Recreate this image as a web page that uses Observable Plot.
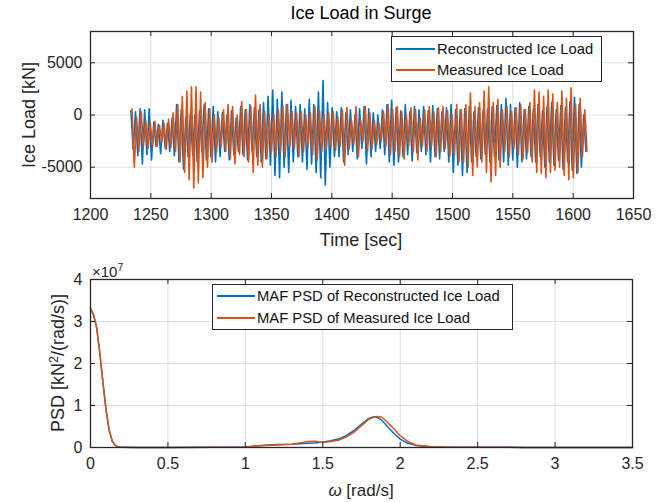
<!DOCTYPE html>
<html><head><meta charset="utf-8">
<script src="https://cdn.jsdelivr.net/npm/d3@7"></script>
<script src="https://cdn.jsdelivr.net/npm/@observablehq/plot@0.6"></script>
<style>
body{margin:0;background:#fff;}
#wrap{position:relative;width:665px;height:502px;font-family:"Liberation Sans",Arial,sans-serif;color:#262626;overflow:hidden;background:#fff}
.abs{position:absolute;white-space:nowrap;line-height:1}
.c{transform:translate(-50%,-50%)}
.rot{transform:translate(-50%,-50%) rotate(-90deg)}
.leg{position:absolute;background:#fff;border:1.3px solid #262626;box-sizing:border-box}
.ll{position:absolute;height:0;border-top:2px solid}
.lt{position:absolute;font-size:14.8px;color:#111;transform:translateY(-50%);white-space:nowrap;line-height:1}
sup{font-size:0.7em;vertical-align:0.5em;line-height:0}
</style></head><body><div id="wrap"></div>
<script>
// ---------- Data: Ice load time series (one peak & trough per oscillation cycle) ----------
const timeStart = 1233;      // s
const cycleSec = 3.79;       // s per oscillation cycle
const seriesNames = ["Reconstructed Ice Load", "Measured Ice Load"];
const reconPeaks = [
  400, 300, 600, 500, 600,
  -700, -900, -500, -800, -300,
  1000, 500, -200, 200, 0, 400, 1000,
  600, 800, 300, 200, 0, 400, -300,
  800, 500, 1000, 700, 500, 1200, 1800,
  2400, 1500, 2200, 1000, 1400, 800,
  1000, 600, 1500, 1000, 2200, 3300, 1200, 700,
  300, 700, 200, 500, 0, 600,
  800, 600, 200, 0, 500, 1000,
  1400, 700, 400, 1000, 300, 800, 500,
  800, 400, 900, 600, 300, 700, 1000, 500,
  500, 600, 800, 300, 700, 400, 600, 800, 900,
  1000, 1600, 1000, 700, 1200, 500, 800,
  600, 1000, 400, 800, 1200, 500, 900, 700, 1300, 1700, 1000, 0
];
const reconTroughs = [
  -3300, -3900, -4700, -3800, -4300,
  -3000, -3700, -3200, -3500, -3900,
  -4500, -5200, -4000, -3800, -4500, -3500, -4300,
  -4000, -4500, -4000, -3500, -4300, -3800, -3500,
  -3800, -4300, -3500, -4000, -4500, -4200, -4800,
  -5800, -6000, -5000, -5500, -4500, -4000,
  -4500, -5200, -4700, -5500, -6000, -6700, -5000, -4000,
  -4000, -4500, -3800, -3500, -4200, -3200,
  -4700, -4000, -3500, -3200, -3800, -4500,
  -4800, -4500, -4000, -3800, -4400, -3600, -3500,
  -3800, -4500, -4000, -4200, -3500, -4500, -5500, -4800,
  -5800, -5500, -4500, -4000, -4200, -3800, -4500, -4000, -4300,
  -4500, -4800, -4300, -5000, -4500, -4200, -4000,
  -4500, -4000, -5000, -4500, -4800, -4300, -5200, -4500, -5300, -5600, -5000, -3500
];
const measPeaks = [
  600, -200, 300, -500, -800,
  -600, -1000, -800, -400, 200,
  1000, 1800, 2300, 2700, 2700, 2200, 1200,
  600, 0, -300, 500, 1000, 800, 0,
  1300, 500, 800, 1900, 1000, 300, 0,
  0, 500, 800, 1000, 300, 200,
  300, 0, 200, 800, 400, 0, 200, 300,
  -200, 500, 700, -500, 800, -500,
  800, 200, -500, -800, 300, 1000,
  500, 800, 300, 0, 700, 500, -300,
  500, 800, 300, 700, 800, 400, 0, 1000,
  500, 1000, 2100, 800, 1200, 2300, 2700, 1200, 1500,
  500, 800, 300, 700, 1000, 500, 1200,
  2400, 2200, 1800, 2400, 2000, 1200, 2300, 1600, 2600, 1000, 1600, 500
];
const measTroughs = [
  -5000, -3500, -3000, -3200, -3000,
  -3000, -2600, -3300, -3100, -3500,
  -4500, -5500, -6200, -7000, -6500, -6000, -5000,
  -4500, -3500, -3000, -3500, -4200, -4700, -3800,
  -4000, -4500, -5500, -4800, -5000, -4200, -3500,
  -4000, -3500, -4000, -3000, -3200, -4000,
  -3500, -3000, -3800, -4300, -3500, -3200, -3000, -3400,
  -3000, -4800, -3200, -2800, -4000, -2500,
  -3500, -3200, -2800, -2500, -3000, -3800,
  -3500, -4000, -4200, -3000, -3500, -4300, -3000,
  -3500, -3000, -4000, -3500, -3200, -4000, -3800, -4500,
  -4500, -5000, -5800, -5000, -4500, -5500, -6400, -5800, -5000,
  -3500, -4000, -3200, -3800, -4200, -3600, -4500,
  -5500, -5600, -6000, -5500, -5300, -5000, -5800, -6200, -6000, -5500, -4000, -3500
];
const xTicksTop = [1200, 1250, 1300, 1350, 1400, 1450, 1500, 1550, 1600, 1650];
const yTicksTop = [-5000, 0, 5000];

// ---------- Data: PSD (units of 1e7 kN^2/(rad/s)) ----------
const psdNames = ["MAF PSD of Reconstructed Ice Load", "MAF PSD of Measured Ice Load"];
const omega = [0, 0.02, 0.04, 0.06, 0.08, 0.10, 0.12, 0.14, 0.16, 0.18,
  0.2, 0.3, 0.5, 0.8, 1.0, 1.1, 1.2, 1.3, 1.4, 1.45,
  1.5, 1.55, 1.6, 1.65, 1.7, 1.75, 1.8, 1.83, 1.85, 1.88,
  1.9, 1.95, 2.0, 2.05, 2.1, 2.2, 2.3, 2.5, 2.7, 2.8, 3.0, 3.5];
const psdRecon = [3.30, 3.15, 2.85, 2.25, 1.55, 0.90, 0.42, 0.15, 0.05, 0.01,
  0.003, 0.002, 0.002, 0.003, 0.01, 0.05, 0.07, 0.08, 0.10, 0.11,
  0.13, 0.16, 0.20, 0.28, 0.40, 0.56, 0.70, 0.73, 0.72, 0.65,
  0.57, 0.37, 0.20, 0.10, 0.05, 0.015, 0.006, 0.004, 0.003, 0.001, 0.001, 0.0005];
const psdMeas = [3.32, 3.16, 2.86, 2.27, 1.57, 0.92, 0.43, 0.16, 0.05, 0.01,
  0.003, 0.002, 0.002, 0.003, 0.01, 0.04, 0.06, 0.08, 0.14, 0.15,
  0.12, 0.14, 0.17, 0.25, 0.36, 0.52, 0.68, 0.72, 0.74, 0.72,
  0.66, 0.48, 0.28, 0.14, 0.06, 0.02, 0.01, 0.008, 0.005, 0.001, 0.001, 0.0005];
const xTicksBot = [0, 0.5, 1, 1.5, 2, 2.5, 3, 3.5];
const yTicksBot = [0, 1, 2, 3, 4];

const colors = ["#0072BD", "#D95319"];

// ---------- build tables ----------
function cycles(peaks, troughs, pOff, tOff) {
  const out = [];
  peaks.forEach((p, i) => {
    const t0 = timeStart + i * cycleSec;
    out.push({t: t0 + pOff, v: p});
    out.push({t: t0 + tOff, v: troughs[i]});
  });
  return out;
}
const recon = cycles(reconPeaks, reconTroughs, 0.5, 2.4);
const meas = cycles(measPeaks, measTroughs, 1.4, 3.3);
const psdR = omega.map((w, i) => ({w, p: psdRecon[i]}));
const psdM = omega.map((w, i) => ({w, p: psdMeas[i]}));

const wrap = document.getElementById("wrap");
const axisColor = "#262626";
const gridColor = "#dedede";
const font = '"Liberation Sans", Arial, sans-serif';

function panel({height, mt, mb, ml, mr, xDomain, yDomain, xTicks, yTicks, lines, xKey, yKey, sw}) {
  const W = 665 - ml - mr, H = height - mt - mb;
  return Plot.plot({
    width: 665, height, marginTop: mt, marginBottom: mb, marginLeft: ml, marginRight: mr,
    x: {domain: xDomain}, y: {domain: yDomain},
    style: {fontFamily: font, fontSize: "16px", color: axisColor, background: "transparent", overflow: "visible"},
    marks: [
      Plot.gridX(xTicks, {stroke: gridColor, strokeOpacity: 1, strokeWidth: 1}),
      Plot.gridY(yTicks, {stroke: gridColor, strokeOpacity: 1, strokeWidth: 1}),
      ...lines.map((d, i) => Plot.line(d, {x: xKey, y: yKey, stroke: colors[i], strokeWidth: sw})),
      Plot.axisX(xTicks, {tickSize: 0, tickPadding: 10, label: null, tickFormat: d => String(d)}),
      Plot.axisY(yTicks, {tickSize: 0, tickPadding: 8, label: null, tickFormat: d => String(d)}),
      Plot.tickX(xTicks, {x: d => d, insetTop: H - 5, stroke: axisColor}),
      Plot.tickX(xTicks, {x: d => d, insetBottom: H - 5, stroke: axisColor}),
      Plot.tickY(yTicks, {y: d => d, insetRight: W - 5, stroke: axisColor}),
      Plot.tickY(yTicks, {y: d => d, insetLeft: W - 5, stroke: axisColor}),
      Plot.frame({stroke: axisColor, strokeWidth: 1.3})
    ]
  });
}

const topPlot = panel({height: 255, mt: 31, mb: 57, ml: 90, mr: 32,
  xDomain: [1200, 1650], yDomain: [-8000, 8000], xTicks: xTicksTop, yTicks: yTicksTop,
  lines: [recon, meas], xKey: "t", yKey: "v", sw: 1.6});
topPlot.style.position = "absolute"; topPlot.style.left = "0px"; topPlot.style.top = "0px";
wrap.appendChild(topPlot);

const botPlot = panel({height: 247, mt: 24, mb: 55, ml: 90, mr: 33,
  xDomain: [0, 3.5], yDomain: [0, 4], xTicks: xTicksBot, yTicks: yTicksBot,
  lines: [psdR, psdM], xKey: "w", yKey: "p", sw: 1.5});
botPlot.style.position = "absolute"; botPlot.style.left = "0px"; botPlot.style.top = "255px";
wrap.appendChild(botPlot);

function addText(html, x, y, cls, size, extra) {
  const d = document.createElement("div");
  d.className = "abs " + cls;
  d.style.left = x + "px"; d.style.top = y + "px"; d.style.fontSize = size + "px";
  if (extra) Object.assign(d.style, extra);
  d.innerHTML = html;
  wrap.appendChild(d);
}
addText("Ice Load in Surge", 361, 13, "c", 18, {color: "#000"});
addText("Ice Load [kN]", 29, 115, "rot", 18);
addText("Time [sec]", 361, 240, "c", 18);
addText("PSD [kN<sup>2</sup>/(rad/s)]", 58, 363, "rot", 18);
addText("<i>ω</i> [rad/s]", 361, 490, "c", 17);
addText("×10<sup>7</sup>", 92, 271, "", 15, {transform: "translateY(-50%)"});

function legend(x, y, w, h, names, lineX0, lineX1, rowYs) {
  const box = document.createElement("div");
  box.className = "leg";
  Object.assign(box.style, {left: x + "px", top: y + "px", width: w + "px", height: h + "px"});
  wrap.appendChild(box);
  names.forEach((n, i) => {
    const l = document.createElement("div");
    l.className = "ll";
    Object.assign(l.style, {left: lineX0 + "px", top: (rowYs[i] - 1) + "px", width: (lineX1 - lineX0) + "px", borderColor: colors[i]});
    wrap.appendChild(l);
    const t = document.createElement("div");
    t.className = "lt";
    Object.assign(t.style, {left: (lineX1 + 2) + "px", top: rowYs[i] + "px"});
    t.textContent = n;
    wrap.appendChild(t);
  });
}
legend(391, 36, 211, 46, seriesNames, 396, 435, [49, 70]);
legend(212, 284, 301, 46, psdNames, 217, 255, [296, 318]);
</script></body></html>
